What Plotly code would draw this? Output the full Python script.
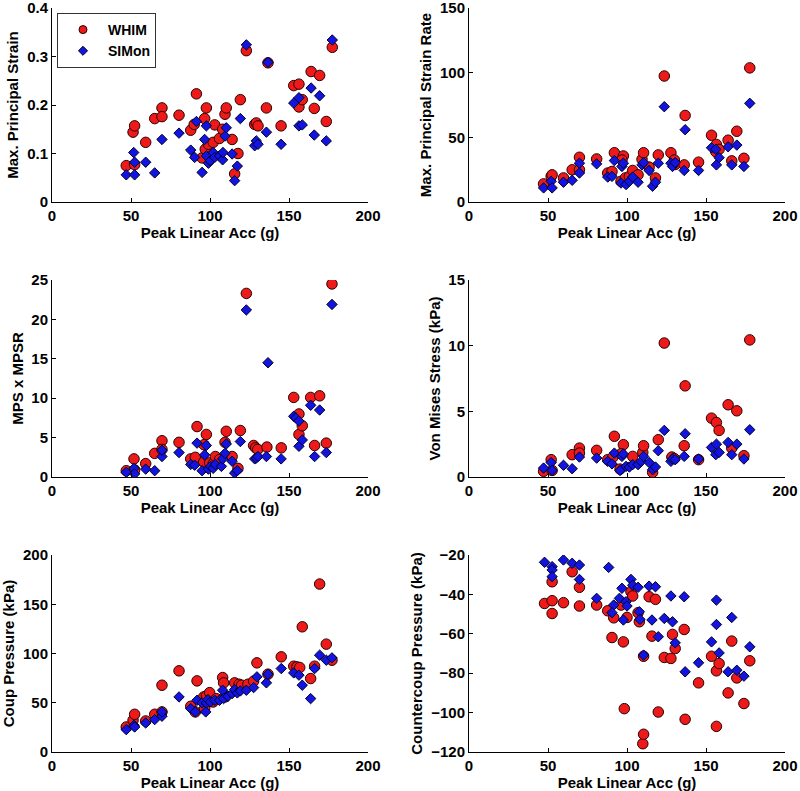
import plotly.graph_objects as go

# ---------------- data ----------------
# Panel 1: Max. Principal Strain
mps_whim_x = [47, 52.3, 51.3, 52.3, 59.3, 65, 69.6, 69.6, 80.4, 87.8, 91.4, 90, 96.6, 97.7, 95, 97, 99, 102, 103, 106, 108, 109.5, 110.3, 114, 115.6, 117.7, 119.2, 123, 128.3, 129.3, 130.4, 135.7, 136.7, 145, 153, 156.3, 156.3, 158.4, 164, 166, 169.4, 173.6, 177.4]
mps_whim_y = [0.075, 0.077, 0.144, 0.157, 0.123, 0.172, 0.194, 0.176, 0.179, 0.148, 0.223, 0.16, 0.172, 0.194, 0.091, 0.109, 0.119, 0.123, 0.159, 0.131, 0.15, 0.181, 0.194, 0.129, 0.058, 0.100, 0.211, 0.312, 0.160, 0.163, 0.157, 0.194, 0.287, 0.157, 0.240, 0.243, 0.196, 0.211, 0.269, 0.193, 0.261, 0.166, 0.319]
mps_simon_x = [47, 51.7, 52.3, 52.3, 59.3, 65, 69.6, 80.4, 87.8, 90.3, 91.4, 95, 96.6, 97.7, 97.7, 99, 100.2, 102, 103, 106, 108, 108.2, 109.5, 110.3, 114, 115.6, 117.3, 119.2, 123, 128.3, 129.3, 130.4, 135.7, 136.7, 145, 153, 156.3, 156.3, 158.4, 164, 166, 169.4, 173.6, 177.4]
mps_simon_y = [0.056, 0.102, 0.082, 0.056, 0.082, 0.060, 0.129, 0.142, 0.107, 0.092, 0.166, 0.061, 0.129, 0.157, 0.095, 0.080, 0.085, 0.102, 0.092, 0.095, 0.087, 0.102, 0.136, 0.153, 0.099, 0.044, 0.074, 0.172, 0.324, 0.116, 0.126, 0.119, 0.144, 0.288, 0.119, 0.204, 0.215, 0.157, 0.159, 0.235, 0.138, 0.219, 0.126, 0.334]

# Panel 2: Max. Principal Strain Rate
mpsr_whim_x = [47.2, 52, 52.6, 59.8, 65.3, 69.9, 69.9, 80.8, 87.8, 90.5, 92, 97.7, 96.8, 96.2, 99, 101.5, 103.6, 107, 109.5, 110.5, 114, 118, 119.8, 123.6, 127.8, 130, 130.5, 136.8, 136.2, 145.3, 153.5, 156.6, 156.2, 158.3, 164, 166.3, 169.5, 174, 177.7]
mpsr_whim_y = [14, 19.8, 21, 18.6, 24.9, 34.6, 24.9, 33.3, 22.4, 23.6, 38.1, 35.6, 32.5, 16, 18.6, 19.8, 24.4, 21, 33, 38.1, 27, 18.6, 36.4, 97.4, 38.1, 32.5, 29, 66.9, 28.7, 30.8, 51.6, 44.5, 38.9, 40.7, 47.8, 31.8, 54.7, 33.8, 103.7]
mpsr_simon_x = [47.2, 52, 52.6, 59.8, 65.3, 69.9, 69.9, 80.8, 87.8, 90.5, 92, 96.8, 97.7, 96.2, 99.4, 101.5, 103.6, 107, 109.5, 110.5, 114, 116.2, 118, 119.8, 123.6, 127.8, 128.8, 130.5, 136.8, 136.2, 145.3, 153.5, 156.2, 156.6, 158.3, 164, 166.3, 169.5, 174, 177.7]
mpsr_simon_y = [10.9, 16, 10.9, 15.3, 16.8, 30, 22.4, 29.5, 19.3, 19.8, 32, 27.5, 30, 14.7, 13.5, 16, 19.3, 15.3, 28.7, 30.5, 24.4, 12.2, 15.3, 30, 73.7, 30, 27.5, 30.5, 55.9, 24.4, 24.4, 41.9, 40.7, 28.7, 34.3, 42.7, 28.7, 44, 27.5, 76.3]

# Panel 3: MPS x MPSR
prod_whim_x = [47, 51.9, 52.3, 59.3, 65, 69.6, 69.6, 80.4, 87.8, 90.7, 91.8, 97.7, 96.2, 96, 99.8, 102, 103.4, 106, 109.5, 110.3, 114, 117.7, 119.2, 123, 127.6, 128.9, 130.2, 136, 145.1, 153, 156.3, 156.3, 158.4, 163.7, 166.2, 169.4, 173.6, 177.2]
prod_whim_y = [0.8, 2.3, 0.9, 1.7, 3.0, 4.6, 3.5, 4.4, 2.3, 2.5, 6.4, 5.4, 4.1, 1.9, 1.8, 1.7, 2.6, 2.2, 4.4, 5.8, 2.6, 1.1, 5.9, 23.3, 4.0, 3.7, 3.5, 3.8, 3.7, 10.1, 8.0, 5.4, 6.5, 10.1, 4.0, 10.3, 4.3, 24.5]
prod_simon_x = [47, 51.9, 52.3, 59.3, 65, 69.6, 69.6, 80.4, 87.8, 90.3, 91.8, 96.6, 97.7, 95, 99, 100.4, 102, 103.4, 107.2, 108, 109.5, 110.3, 114, 115.6, 117.3, 119.2, 123, 128.3, 129.3, 130.4, 135.7, 136.7, 145, 153, 154.3, 156.3, 156.3, 158.4, 163.7, 166.2, 169.4, 173.6, 177.2]
prod_simon_y = [0.6, 1.1, 0.4, 1.0, 0.8, 2.6, 3.4, 3.1, 1.6, 1.5, 4.3, 2.8, 4.0, 0.8, 1.0, 1.35, 1.1, 1.6, 1.35, 2.3, 3.0, 4.2, 2.0, 0.5, 0.8, 4.5, 21.2, 2.3, 2.4, 2.6, 2.6, 14.5, 2.3, 7.7, 7.5, 7.1, 3.9, 4.7, 9.1, 2.6, 8.5, 3.1, 21.9]

# Panel 4: Von Mises Stress (kPa)
vm_whim_x = [47.2, 52, 52.6, 65.3, 69.9, 69.9, 80.8, 87.8, 91, 92, 97.7, 96.2, 95.6, 103.6, 110, 110.5, 116.2, 119.8, 123.6, 128.4, 130, 136.2, 136.8, 145.3, 153.5, 156.6, 158.3, 164, 166.3, 169.5, 174, 177.7]
vm_whim_y = [0.43, 1.32, 0.5, 1.7, 2.2, 1.82, 2.03, 1.32, 1.5, 3.1, 2.46, 1.77, 0.6, 1.57, 1.87, 2.38, 0.35, 2.84, 10.2, 1.52, 1.4, 2.38, 6.94, 1.32, 4.48, 4.15, 3.55, 5.5, 2.2, 5.04, 1.62, 10.44]
vm_simon_x = [47.2, 52, 52.6, 59.8, 65.3, 69.9, 80.8, 87.8, 90.5, 92, 96.8, 97.7, 95.6, 99.4, 101.5, 103.6, 107, 109, 110.5, 114, 116.2, 118, 119.8, 123.6, 127.8, 128.8, 130.5, 136.2, 136.8, 145.3, 153.5, 156.6, 156.2, 158.3, 164, 166.3, 169.5, 174, 177.7]
vm_simon_y = [0.68, 1.1, 0.5, 0.89, 0.63, 1.52, 1.44, 1.19, 1.0, 1.82, 1.57, 1.75, 0.5, 0.81, 0.76, 0.94, 0.94, 1.19, 1.57, 1.1, 0.56, 0.76, 2.0, 3.55, 1.19, 1.37, 1.32, 1.57, 3.29, 1.37, 2.25, 2.5, 1.7, 1.87, 2.63, 1.7, 2.5, 1.37, 3.6]

# Panel 5: Coup Pressure (kPa)
coup_whim_x = [47, 51.3, 52.3, 59.3, 65, 69.6, 69.6, 80.4, 87.8, 91.8, 90.7, 96, 97.7, 96.6, 99.8, 102, 104, 108, 108.6, 109.5, 115.6, 118.4, 120, 124, 127.6, 129.7, 136.7, 145.1, 153, 155, 156.8, 158.4, 163.7, 166.2, 169.4, 173.6, 177.2]
coup_whim_y = [25.4, 32.2, 38.3, 31.5, 38.3, 67.8, 40.7, 82.4, 46.4, 72.2, 40.7, 55.9, 57, 44, 60.3, 50.8, 54.2, 75.6, 70.2, 55.9, 70.2, 68.8, 67.8, 68.8, 71.9, 90.5, 79, 96.6, 87.1, 86.4, 85.8, 127.1, 74.6, 87.1, 170.5, 109.5, 93.2]
coup_simon_x = [47, 51.9, 52.3, 59.3, 65, 69.6, 69.6, 80.4, 87.8, 90.7, 91.8, 95, 97.3, 97.7, 98.7, 100.2, 103, 106, 108, 108.6, 111.4, 114, 115.6, 117.3, 119.2, 123, 127.6, 129.7, 135.7, 136.7, 145.1, 153, 156.3, 158.4, 163.7, 166.2, 169.4, 173.6, 177.2]
coup_simon_y = [22.7, 27.1, 25.4, 29.5, 32.9, 36.3, 40.7, 55.9, 44.1, 40.7, 52.5, 49.8, 40.7, 49.8, 53.2, 50.8, 52.5, 52.5, 62.7, 54.2, 56.6, 59.3, 63.4, 60, 62, 62.7, 65.4, 76.3, 70.2, 79, 84.7, 80.3, 78, 67.8, 54.2, 84.7, 98.3, 93.2, 95.6]

# Panel 6: Countercoup Pressure (kPa)
cc_whim_x = [47.8, 52.6, 52.6, 52.6, 59.8, 65.3, 69.9, 69.9, 80.8, 87.8, 91.6, 90.5, 96.2, 97.7, 98.3, 100, 102.5, 103.6, 107, 107.8, 110, 110.5, 110.5, 114, 115.8, 118, 119.8, 123.6, 127.8, 128.8, 130.5, 136.2, 136.8, 145.3, 153.5, 156.6, 156.6, 158.3, 164, 166.3, 169.5, 174, 177.7]
cc_whim_y = [-44.6, -43.2, -33.6, -49.7, -44.2, -28.5, -36.4, -45.9, -45.4, -48.3, -51.9, -61.9, -45.4, -64.1, -98, -51.7, -38.6, -40.8, -49.3, -53.9, -115.8, -111, -71.4, -41.2, -61.2, -42.5, -99.7, -72, -72.5, -60.3, -67.5, -57.8, -103.4, -84.9, -71.4, -78.8, -107, -75.1, -90, -63.7, -82.4, -95.4, -73.7]
cc_simon_x = [47.8, 52.6, 52.6, 52.6, 59.8, 65.3, 69.9, 69.9, 80.8, 88.4, 91.6, 90.5, 95.2, 96.8, 97.7, 99.4, 100, 102.5, 103.6, 107, 107.8, 108.2, 110.5, 114, 115.8, 118, 119.8, 123.6, 127.8, 128.8, 130.5, 136.2, 136.8, 145.3, 153.5, 156.6, 156.6, 158.3, 164, 166.3, 169.5, 174, 177.7]
cc_simon_y = [-23.7, -25.9, -27.6, -31, -22.5, -24.2, -25.1, -32.4, -42, -26.3, -45.4, -49.3, -42, -36.9, -53, -43.7, -45.9, -32.4, -35.3, -36.4, -48.8, -52.7, -70.8, -35.8, -53, -36.1, -61.5, -52.2, -40.8, -53.9, -64.6, -41.2, -79.3, -74.7, -64.1, -42.9, -55.3, -69.7, -79.3, -51.7, -78.5, -81.5, -66.6]

x_title = "Peak Linear Acc (g)"
y_titles = ["Max. Principal Strain", "Max. Principal Strain Rate", "MPS x MPSR",
            "Von Mises Stress (kPa)", "Coup Pressure (kPa)", "Countercoup Pressure (kPa)"]
y_ranges = [(0, 0.4), (0, 150), (0, 25), (0, 15), (0, 200), (-120, -20)]
y_ticks = [[0, 0.1, 0.2, 0.3, 0.4], [0, 50, 100, 150], [0, 5, 10, 15, 20, 25],
           [0, 5, 10, 15], [0, 50, 100, 150, 200], [-120, -100, -80, -60, -40, -20]]
x_ticks = [0, 50, 100, 150, 200]
series_names = ["WHIM", "SIMon"]

panels = [
    (mps_whim_x, mps_whim_y, mps_simon_x, mps_simon_y),
    (mpsr_whim_x, mpsr_whim_y, mpsr_simon_x, mpsr_simon_y),
    (prod_whim_x, prod_whim_y, prod_simon_x, prod_simon_y),
    (vm_whim_x, vm_whim_y, vm_simon_x, vm_simon_y),
    (coup_whim_x, coup_whim_y, coup_simon_x, coup_simon_y),
    (cc_whim_x, cc_whim_y, cc_simon_x, cc_simon_y),
]

# ---------------- layout ----------------
W, H = 800, 791
x_doms = [(52 / W, 368 / W), (469 / W, 785 / W)]
y_doms = [(1 - 202 / H, 1 - 8 / H), (1 - 477 / H, 1 - 280 / H), (1 - 752 / H, 1 - 555 / H)]

FONT = dict(family="Arial, Liberation Sans, sans-serif", size=15, color="black", weight="bold")
LEG_FONT = dict(family="Arial, Liberation Sans, sans-serif", size=14, color="black", weight="bold")
RED = "#ee1a1a"
BLUE = "#1414e0"
RED_EDGE = "#2a0000"
BLUE_EDGE = "#00002a"

fig = go.Figure()
layout = {}
for i, (wx, wy, sx, sy) in enumerate(panels):
    r, c = divmod(i, 2)
    n = "" if i == 0 else str(i + 1)
    xa, ya = "x" + n, "y" + n
    fig.add_trace(go.Scatter(
        x=wx, y=wy, mode="markers", name=series_names[0], xaxis=xa, yaxis=ya,
        showlegend=False,
        marker=dict(symbol="circle", size=10.5, color=RED, line=dict(color=RED_EDGE, width=1))))
    fig.add_trace(go.Scatter(
        x=sx, y=sy, mode="markers", name=series_names[1], xaxis=xa, yaxis=ya,
        showlegend=False,
        marker=dict(symbol="diamond", size=8, color=BLUE, line=dict(color=BLUE_EDGE, width=1))))
    layout["xaxis" + n] = dict(
        domain=x_doms[c], anchor=ya, range=[0, 200], tickvals=x_ticks,
        ticks="inside", ticklen=4, tickcolor="black", showline=True, linecolor="black",
        linewidth=1, showgrid=False, zeroline=False, tickfont=FONT, automargin=False,
        ticklabeloverflow="allow",
        title=dict(text=x_title, font=FONT, standoff=0))
    layout["yaxis" + n] = dict(
        domain=y_doms[r], anchor=xa, range=list(y_ranges[i]), tickvals=y_ticks[i],
        ticks="inside", ticklen=4, tickcolor="black", showline=True, linecolor="black",
        linewidth=1, showgrid=False, zeroline=False, tickfont=FONT, automargin=False,
        ticklabeloverflow="allow",
        title=dict(text=y_titles[i], font=FONT, standoff=4))

# legend entries (small symbols, as in the reference legend)
fig.add_trace(go.Scatter(x=[None], y=[None], mode="markers", name=series_names[0],
                         marker=dict(symbol="circle", size=8, color=RED, line=dict(color=RED_EDGE, width=1))))
fig.add_trace(go.Scatter(x=[None], y=[None], mode="markers", name=series_names[1],
                         marker=dict(symbol="diamond", size=7, color=BLUE, line=dict(color=BLUE_EDGE, width=1))))

fig.update_layout(
    **layout,
    width=W, height=H, margin=dict(l=0, r=0, t=0, b=0, autoexpand=False),
    paper_bgcolor="white", plot_bgcolor="white",
    showlegend=True,
    legend=dict(x=57 / W, y=1 - 13 / H, xanchor="left", yanchor="top",
                bgcolor="white", bordercolor="#333333", borderwidth=1,
                font=LEG_FONT, itemsizing="trace", itemwidth=40, tracegroupgap=0),
)

fig.write_html("out.html", config={"displayModeBar": False},
               post_script="document.body.style.margin='0';document.body.style.overflow='hidden';")
